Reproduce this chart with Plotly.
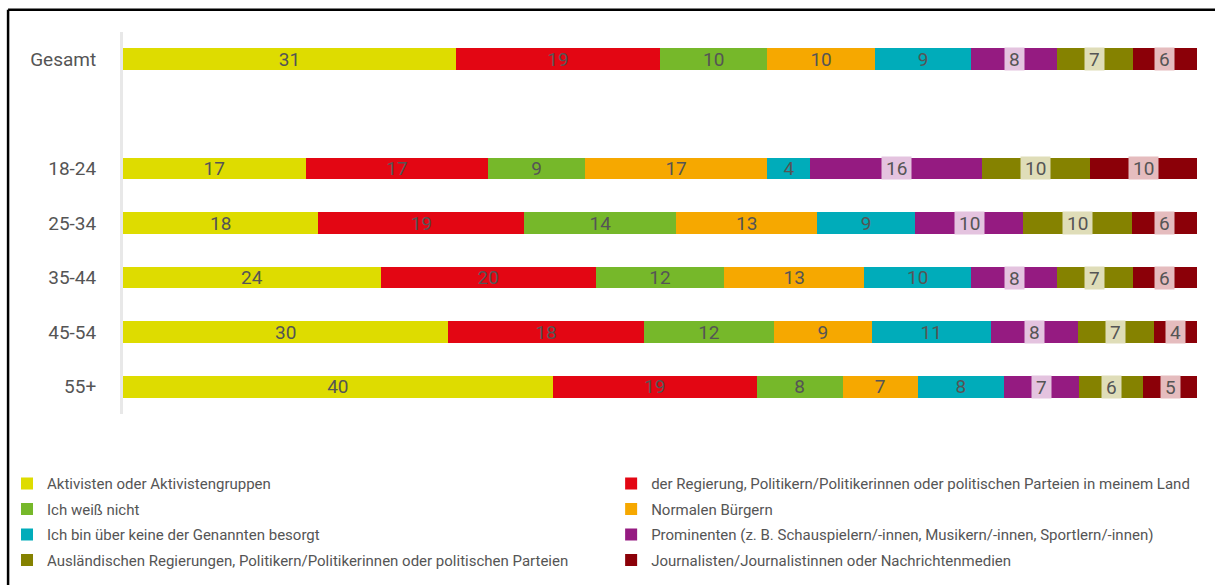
import plotly.graph_objects as go

# Rows (a blank spacer row separates the total from the age groups)
gruppen = ["Gesamt", " ", "18-24", "25-34", "35-44", "45-54", "55+"]

serien = [
    "Aktivisten oder Aktivistengruppen",
    "der Regierung, Politikern/Politikerinnen oder politischen Parteien in meinem Land",
    "Ich weiß nicht",
    "Normalen Bürgern",
    "Ich bin über keine der Genannten besorgt",
    "Prominenten (z. B. Schauspielern/-innen, Musikern/-innen, Sportlern/-innen)",
    "Ausländischen Regierungen, Politikern/Politikerinnen oder politischen Parteien",
    "Journalisten/Journalistinnen oder Nachrichtenmedien",
]

aktivisten   = [31, None, 17, 18, 24, 30, 40]
regierung    = [19, None, 17, 19, 20, 18, 19]
weiss_nicht  = [10, None, 9, 14, 12, 12, 8]
buerger      = [10, None, 17, 13, 13, 9, 7]
keine        = [9, None, 4, 9, 10, 11, 8]
prominente   = [8, None, 16, 10, 8, 8, 7]
auslaendisch = [7, None, 10, 10, 7, 7, 6]
journalisten = [6, None, 10, 6, 6, 4, 5]

werte = [aktivisten, regierung, weiss_nicht, buerger, keine,
         prominente, auslaendisch, journalisten]

farben = ["#DEDC00", "#E30613", "#76B82A", "#F6A800",
          "#00ACBA", "#951B81", "#858200", "#8B0008"]
# label box tints for the last three series
box_farben = {5: "#E4C3DF", 6: "#DFDDB8", 7: "#E5BCBE"}

FONT = "Roboto, sans-serif"
TEXT = "#555555"

fig = go.Figure()
for i, (name, v) in enumerate(zip(serien, werte)):
    fig.add_trace(go.Bar(
        name=name,
        y=gruppen,
        x=v,
        orientation="h",
        marker=dict(color=farben[i], line=dict(width=0)),
        text=[("" if (i in box_farben or val is None) else str(val)) for val in v],
        textposition="inside",
        insidetextanchor="middle",
        textangle=0,
        textfont=dict(color=TEXT, size=19, family=FONT),
        hoverinfo="skip",
        # two legend columns: even series left, odd series right
        legend="legend" if i % 2 == 0 else "legend2",
        legendgroup=f"g{i}",
    ))

# boxed labels for the last three segments, centred on each segment
for r, g in enumerate(gruppen):
    if aktivisten[r] is None:
        continue
    total = sum(s[r] for s in werte)
    cum = 0
    for i, s in enumerate(werte):
        if i in box_farben:
            fig.add_annotation(
                x=(cum + s[r] / 2) / total * 100, y=g,
                text=str(s[r]), showarrow=False,
                font=dict(color=TEXT, size=19, family=FONT),
                bgcolor=box_farben[i], height=14, borderpad=4,
                xref="x", yref="y",
            )
        cum += s[r]

legend_style = dict(
    orientation="v",
    yanchor="top", y=-0.1395,
    xanchor="left",
    font=dict(size=15, color=TEXT, family=FONT),
    itemwidth=30,
    tracegroupgap=3,
    bgcolor="rgba(0,0,0,0)",
)

fig.update_layout(
    barmode="stack",
    barnorm="percent",
    bargap=0.6,
    width=1215,
    height=585,
    margin=dict(l=123, r=18, t=32, b=171, autoexpand=False),
    paper_bgcolor="white",
    plot_bgcolor="white",
    font=dict(family=FONT, color=TEXT),
    uniformtext=dict(minsize=19, mode="show"),
    legend=dict(legend_style, x=-0.108),
    legend2=dict(legend_style, x=0.4545),
    shapes=[
        dict(type="line", xref="paper", yref="paper",
             x0=-0.107, x1=1.1, y0=1.058, y1=1.058,
             line=dict(color="black", width=2.5)),
        dict(type="line", xref="paper", yref="paper",
             x0=-0.107, x1=-0.107, y0=1.058, y1=-0.5,
             line=dict(color="black", width=2.5)),
    ],
)

fig.update_xaxes(range=[0, 100], visible=False, showgrid=False)
fig.update_yaxes(
    categoryorder="array", categoryarray=gruppen,
    autorange="reversed",
    showline=True, linecolor="#E8E8E8", linewidth=3,
    showgrid=False, ticks="",
    ticklabelstandoff=20,
    tickfont=dict(size=19, color=TEXT, family=FONT),
)

fig.write_html("out.html", config={"displayModeBar": False},
               post_script="document.body.style.margin='0';")
